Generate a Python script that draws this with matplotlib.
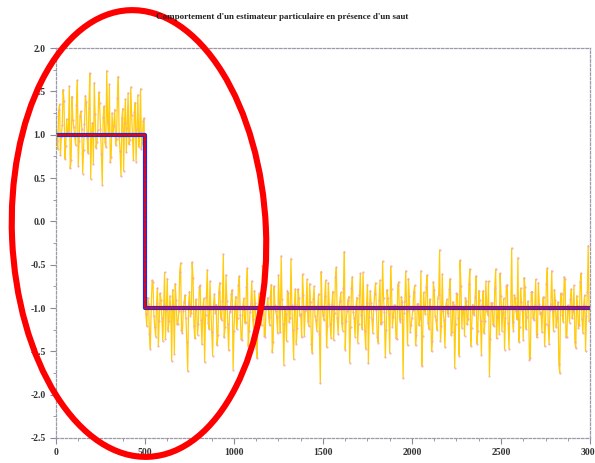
import numpy as np
import matplotlib.pyplot as plt
from matplotlib.patches import Ellipse
from matplotlib.ticker import MultipleLocator

obs_before = [1.21, 0.84, 1.35, 0.97, 1.52, 0.72, 1.18, 1.04, 0.61, 1.44,
              1.09, 0.88, 1.63, 0.93, 1.27, 0.55, 1.12, 1.38, 0.79, 1.71,
              1.02, 0.66, 1.24, 0.91, 1.49, 1.06, 0.42, 1.33, 0.86, 1.15,
              1.58, 0.74, 1.01, 1.29, 0.95, 1.67, 0.81, 1.19, 0.58, 1.41,
              1.08, 0.89, 1.55, 0.98, 1.26, 0.69, 1.46, 1.03, 0.83, 1.16]
obs_after = [-0.82, -1.21, -0.95, -1.47, -0.68, -1.09, -1.33, -0.77, -1.15, -0.91,
             -1.38, -0.59, -1.02, -1.26, -0.86, -1.61, -0.97, -0.72, -1.19, -1.04,
             -0.48, -1.29, -0.93, -1.12, -1.73, -0.81, -1.06, -0.65, -1.35, -0.99,
             -1.18, -0.74, -1.42, -0.89, -1.08, -0.56, -1.24, -1.01, -1.55, -0.84,
             -0.96, -1.31, -0.71, -1.14, -0.38, -1.22, -0.92, -1.49, -1.03, -0.79,
             -1.27, -0.87, -1.11, -0.63, -1.36, -0.98, -1.17, -0.76, -1.44, -1.05,
             -0.69, -1.23, -0.94, -1.58, -0.83, -1.13, -0.51, -1.32, -1.00, -0.88,
             -1.20, -0.73, -1.39, -0.97, -1.10, -0.62, -1.28, -0.90, -1.66, -1.07,
             -0.80, -1.16, -0.43, -1.25, -0.95, -1.41, -0.78, -1.09, -1.34, -0.85,
             -1.03, -0.67, -1.21, -0.93, -1.52, -0.75, -1.14, -0.99, -1.30, -0.58,
             -1.08, -0.86, -1.45, -0.71, -1.19, -0.96, -1.37, -0.64, -1.12, -1.01,
             -0.82, -1.26, -0.35, -1.15, -0.91, -1.63, -0.77, -1.05, -1.33, -0.88,
             -1.18, -0.60, -1.24, -0.99, -1.47, -0.73, -1.10, -0.94, -1.29, -0.84,
             -1.02, -1.40, -0.68, -1.16, -0.89, -1.57, -0.79, -1.07, -0.52, -1.22,
             -0.97, -1.35, -0.74, -1.13, -0.87, -1.81, -0.92, -1.04, -0.66, -1.28,
             -1.11, -0.81, -1.43, -0.95, -1.20, -0.57, -1.32, -1.00, -0.76, -1.17,
             -0.90, -1.50, -0.70, -1.09, -1.25, -0.85, -1.38, -0.61, -1.14, -0.98,
             -1.06, -0.78, -1.31, -0.93, -1.69, -0.83, -1.12, -0.45, -1.23, -1.01,
             -0.88, -1.19, -0.72, -1.44, -0.96, -1.08, -0.63, -1.27, -0.91, -1.54,
             -0.80, -1.15, -1.03, -0.69, -1.36, -0.94, -1.21, -0.55, -1.10, -1.30,
             -0.86, -1.05, -1.48, -0.75, -1.17, -0.99, -0.31, -1.26, -0.89, -1.13,
             -1.39, -0.77, -1.02, -0.65, -1.24, -0.92, -1.60, -0.82, -1.11, -0.97,
             -1.34, -0.71, -1.07, -1.28, -0.87, -1.18, -0.54, -1.42, -0.95, -1.04,
             -0.79, -1.22, -0.93, -1.75, -0.84, -1.16, -0.67, -1.33, -1.00, -0.90,
             -1.12, -0.74, -1.46, -0.98, -1.20, -0.60, -1.29, -0.85, -1.09, -0.28]
# the in-between samples (t = 5, 15, 25, ...)
obs_mid_before = [0.93, 1.28, 0.76, 1.11, 1.39, 0.87, 1.02, 1.56, 0.71, 1.17,
                  0.99, 1.34, 0.64, 1.22, 1.07, 0.82, 1.45, 0.96, 1.31, 0.49,
                  1.14, 1.60, 0.85, 1.05, 1.36, 0.78, 1.20, 0.92, 1.74, 1.00,
                  0.68, 1.25, 1.10, 0.88, 1.42, 0.97, 0.52, 1.30, 1.13, 0.80,
                  1.48, 0.94, 1.23, 0.71, 1.37, 1.06, 0.86, 1.53, 0.90, 1.19]
obs_mid_after = [-1.07, -0.88, -1.30, -0.99, -0.70, -1.22, -0.94, -1.44, -0.83, -1.12,
                 -0.97, -1.36, -0.66, -1.15, -1.01, -0.79, -1.53, -0.91, -1.18, -0.58,
                 -1.25, -1.03, -0.85, -1.39, -0.95, -1.09, -0.47, -1.21, -0.90, -1.31,
                 -0.76, -1.14, -1.00, -1.62, -0.87, -1.17, -0.69, -1.28, -0.96, -1.06,
                 -1.43, -0.81, -1.11, -0.92, -1.34, -0.62, -1.19, -1.05, -0.84, -1.71,
                 -0.98, -1.24, -0.73, -1.08, -1.37, -0.89, -1.16, -0.54, -1.27, -0.94,
                 -1.13, -0.80, -1.46, -1.02, -0.91, -1.20, -0.67, -1.33, -0.97, -1.10,
                 -0.86, -1.51, -0.75, -1.04, -1.29, -0.93, -0.40, -1.18, -1.00, -1.38,
                 -0.83, -1.12, -0.96, -1.59, -0.78, -1.23, -0.88, -1.07, -0.61, -1.32,
                 -1.01, -1.15, -0.72, -1.42, -0.90, -1.09, -1.26, -0.84, -1.87, -0.98,
                 -1.14, -0.68, -1.21, -0.95, -1.35, -0.81, -1.06, -0.53, -1.30, -0.92,
                 -1.17, -0.77, -1.48, -1.03, -0.87, -1.22, -0.64, -1.11, -0.99, -1.40,
                 -0.85, -1.08, -0.59, -1.27, -0.94, -1.64, -0.80, -1.13, -1.00, -0.71,
                 -1.33, -0.91, -1.19, -0.46, -1.05, -1.25, -0.89, -1.52, -0.78, -1.10,
                 -0.97, -1.36, -0.70, -1.16, -0.93, -1.06, -0.57, -1.43, -0.86, -1.20,
                 -1.02, -0.74, -1.31, -0.95, -1.12, -1.67, -0.82, -1.07, -0.62, -1.24,
                 -0.99, -1.38, -0.79, -1.14, -0.88, -0.33, -1.21, -1.04, -1.45, -0.90,
                 -1.09, -0.66, -1.28, -0.96, -1.18, -0.84, -1.55, -0.75, -1.01, -1.32,
                 -0.92, -1.13, -0.55, -1.23, -1.06, -0.87, -1.41, -0.80, -1.15, -0.97,
                 -1.29, -0.69, -1.08, -1.78, -0.94, -1.19, -0.77, -1.35, -1.00, -0.60,
                 -1.26, -0.89, -1.11, -0.73, -1.47, -0.98, -1.16, -0.85, -1.03, -0.42,
                 -1.22, -0.93, -1.37, -0.76, -1.10, -0.99, -1.58, -0.81, -1.14, -0.67,
                 -1.30, -0.95, -1.05, -0.88, -1.44, -0.72, -1.20, -1.02, -0.57, -1.27,
                 -0.91, -1.12, -1.65, -0.83, -1.08, -0.64, -1.34, -0.97, -1.17, -0.78,
                 -1.04, -1.39, -0.86, -1.23, -0.70, -1.13, -0.96, -1.50, -0.82, -1.15]

obs_a = obs_before + obs_after
obs_b = obs_mid_before + obs_mid_after
obs = np.empty(2 * len(obs_a))
obs[0::2] = obs_a
obs[1::2] = obs_b
t_obs = np.arange(0, 5 * len(obs), 5)

# true signal and estimate (jump at t=500)
step_t = [0, 500, 500, 3000]
true_y = [1.0, 1.0, -1.0, -1.0]
est_y = [1.0, 1.0, -1.0, -1.0]

title = "Comportement d'un estimateur particulaire en présence d'un saut"

fig = plt.figure(figsize=(5.95, 4.63), dpi=100)
ax = fig.add_axes([0.0941, 0.054, 0.8975, 0.8423])

ax.plot(t_obs, obs, color='#FFCC10', linestyle='-', linewidth=0.9)
ax.plot(t_obs, obs, color='#F4A8B8', linestyle='none', marker='.', markersize=1.0)
ax.plot(step_t, true_y, color='#2828D8', linewidth=3.0)
ax.plot(step_t, est_y, color='#FF0000', linewidth=1.3)
ax.plot(step_t, true_y, color='#3030C0', linewidth=0.9, linestyle=(0, (1, 3)))

ax.set_xlim(0, 3000)
ax.set_ylim(-2.5, 2.0)
ax.xaxis.set_major_locator(MultipleLocator(500))
ax.xaxis.set_minor_locator(MultipleLocator(125))
ax.yaxis.set_major_locator(MultipleLocator(0.5))
ax.yaxis.set_minor_locator(MultipleLocator(0.25))
ax.xaxis.set_major_formatter(plt.FuncFormatter(lambda v, p: '%d' % v))
ax.yaxis.set_major_formatter(plt.FuncFormatter(lambda v, p: '%.1f' % v))
ax.tick_params(which='both', direction='out', colors='#8a8a9a', labelcolor='#333333',
               labelsize=7)
ax.tick_params(which='major', length=4)
ax.tick_params(which='minor', length=2.5)
for lab in ax.get_xticklabels() + ax.get_yticklabels():
    lab.set_family('Liberation Serif')
    lab.set_weight('bold')
for s in ax.spines.values():
    s.set_color('#9a9aa8')
    s.set_linewidth(0.9)
    s.set_linestyle((0, (2, 1.5)))

fig.text(0.474, 0.963, title, ha='center', va='center', fontsize=6.5,
         family='Liberation Serif', weight='bold', color='#222222')

# red hand-drawn ellipse over the jump
over = fig.add_axes([0, 0, 1, 1], facecolor='none')
over.set_xlim(0, 595)
over.set_ylim(0, 463)
over.axis('off')
over.add_patch(Ellipse((139, 229.5), 254, 447, angle=2.5, fill=False,
                       edgecolor='#FF0000', linewidth=4.4))

fig.savefig('out.png', dpi=100)
